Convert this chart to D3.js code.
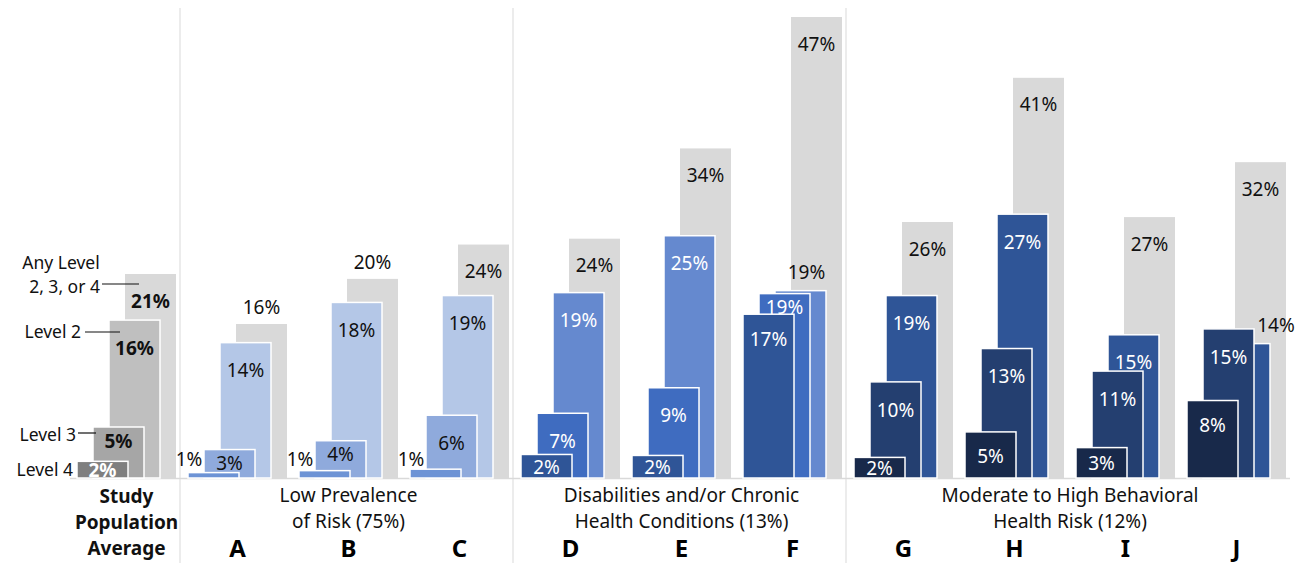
<!DOCTYPE html>
<html lang="en">
<head>
  <meta charset="UTF-8" />
  <title>Risk levels by segment</title>
  <style>
    body { margin: 0; background: #fff; }
    svg { display: block; font-family: "Noto Sans", "Open Sans", sans-serif; }
  </style>
  <script src="https://d3js.org/d3.v7.min.js"></script>
</head>
<body>
<svg id="chart" width="1303" height="563"></svg>

<script>
  // categories (first one is the study average)
  const categories = ['Study', 'A', 'B', 'C', 'D', 'E', 'F', 'G', 'H', 'I', 'J'];
  const groupOf   = ['study', 'low', 'low', 'low', 'dis', 'dis', 'dis', 'beh', 'beh', 'beh', 'beh'];

  // values in %
  const anyLevel = [20.8, 15.7, 20.3, 23.8, 24.4, 33.6, 47.0, 26.1, 40.8, 26.6, 32.2];
  const level2   = [16.1, 13.8, 17.9, 18.6, 18.9, 24.7, 19.1, 18.6, 26.9, 14.6, 13.7];
  const level3   = [5.2,  2.9,  3.8,  6.4,  6.6,  9.2,  18.8, 9.8,  13.2, 10.9, 15.2];
  const level4   = [1.7,  0.55, 0.75, 0.9,  2.4,  2.3,  16.7, 2.1,  4.7,  3.1,  7.9];

  const groups = [
    { key: 'low', lines: ['Low Prevalence', 'of Risk (75%)'] },
    { key: 'dis', lines: ['Disabilities and/or Chronic', 'Health Conditions (13%)'] },
    { key: 'beh', lines: ['Moderate to High Behavioral', 'Health Risk (12%)'] }
  ];

  const palette = {
    study: ['#d9d9d9', '#bfbfbf', '#a6a6a6', '#7f7f7f'],
    low:   ['#d9d9d9', '#b4c7e7', '#8faadc', '#6d93d5'],
    dis:   ['#d9d9d9', '#6589cf', '#3f6cc0', '#2f5597'],
    beh:   ['#d9d9d9', '#2f5597', '#243f70', '#18294a']
  };
  const lightText = { study: [false, false, false, true], low: [false, false, false, false],
                      dis: [false, true, true, true], beh: [false, true, true, true] };

  const svg = d3.select('#chart');
  const base = 478;

  const x = d3.scaleBand().domain(categories).range([71, 71 + 111 * 11]);
  const y = d3.scaleLinear().domain([0, 47]).range([base, 17]);

  const barW = 51, shift = 16;
  const center = c => x(c) + x.bandwidth() / 2;
  const barLeft = (c, k) => center(c) - 1.5 - shift * k;

  // separators
  [1, 4, 7].forEach(i => {
    const sx = x(categories[i]) - 2;
    svg.append('line')
      .attr('x1', sx).attr('x2', sx).attr('y1', 8).attr('y2', 563)
      .attr('stroke', '#d9d9d9').attr('stroke-width', 1);
  });

  // baseline
  svg.append('line')
    .attr('x1', 70).attr('x2', 1290).attr('y1', base + 0.5).attr('y2', base + 0.5)
    .attr('stroke', '#d9d9d9').attr('stroke-width', 1.5);

  const series = [anyLevel, level2, level3, level4];

  const bars = svg.append('g');
  const labels = svg.append('g').attr('font-size', 19);

  categories.forEach((c, i) => {
    const g = groupOf[i];
    const bold = g === 'study';

    series.forEach((vals, k) => {
      const v = vals[i];
      bars.append('rect')
        .attr('x', barLeft(c, k))
        .attr('y', y(v))
        .attr('width', barW)
        .attr('height', base - y(v))
        .attr('fill', palette[g][k])
        .attr('stroke', k === 0 ? 'none' : '#fff')
        .attr('stroke-width', 1.5);
    });

    series.forEach((vals, k) => {
      const v = vals[i];
      const top = y(v), h = base - top;
      let lx = barLeft(c, k) + barW / 2;
      let ly;
      let fill = lightText[g][k] ? '#fff' : '#111';

      if (k === 0) {
        const gap = y(level2[i]) - top;
        ly = gap < 30 ? top - 17 : top + 27;
      } else if (k === 1 && level3[i] >= level2[i] - 0.5) {
        // level 3 covers the top of level 2: put the label above
        ly = top - 18;
        fill = '#111';
        if (ly + 10 > y(level3[i])) lx = barLeft(c, 2) + barW + 22;
        else lx += 6;
      } else if (k === 3 && v < 1) {
        lx = barLeft(c, k) + 1;
        ly = base - 19;
        fill = '#111';
      } else if (k === 2 && y(level4[i]) - top < 40) {
        // little room above the level 4 bar
        ly = top + Math.min(14, h / 2 + 1);
      } else {
        ly = top + Math.min(k === 3 ? 25 : 28, h / 2 + 1);
      }

      labels.append('text')
        .attr('x', lx).attr('y', ly).attr('dy', '0.35em')
        .attr('text-anchor', 'middle')
        .attr('fill', fill)
        .attr('font-weight', bold ? 'bold' : 'normal')
        .text(Math.round(v) + '%');
    });
  });

  // legend labels at the left
  const legend = svg.append('g').attr('font-size', 17.5).attr('fill', '#111');
  const first = categories[0];
  legend.append('text').attr('x', 61).attr('y', 263).attr('dy', '0.35em')
    .attr('text-anchor', 'middle').text('Any Level');
  legend.append('text').attr('x', 100).attr('y', 287).attr('dy', '0.35em')
    .attr('text-anchor', 'end').text('2, 3, or 4');
  legend.append('text').attr('x', 81).attr('y', 332).attr('dy', '0.35em')
    .attr('text-anchor', 'end').text('Level 2');
  legend.append('text').attr('x', 76).attr('y', 435).attr('dy', '0.35em')
    .attr('text-anchor', 'end').text('Level 3');
  legend.append('text').attr('x', 73).attr('y', 470).attr('dy', '0.35em')
    .attr('text-anchor', 'end').text('Level 4');

  const leaders = [
    [102, barLeft(first, 0) + 14, 284],
    [85, barLeft(first, 1) + 11, 332],
    [78, barLeft(first, 2) + 3, 433]
  ];
  leaders.forEach(([x1, x2, ly]) => {
    svg.append('line').attr('x1', x1).attr('x2', x2).attr('y1', ly).attr('y2', ly)
      .attr('stroke', '#111').attr('stroke-width', 1.2);
  });

  // study label
  const studyX = barLeft(first, 3) + (barLeft(first, 0) + barW - barLeft(first, 3)) / 2;
  ['Study', 'Population', 'Average'].forEach((t, j) => {
    svg.append('text')
      .attr('x', studyX).attr('y', 496 + j * 26).attr('dy', '0.35em')
      .attr('text-anchor', 'middle').attr('font-size', 19).attr('font-weight', 'bold')
      .attr('fill', '#111').text(t);
  });

  // category letters
  categories.slice(1).forEach(c => {
    const cx = barLeft(c, 3) + (barLeft(c, 0) + barW - barLeft(c, 3)) / 2;
    svg.append('text')
      .attr('x', cx).attr('y', 549).attr('dy', '0.35em')
      .attr('text-anchor', 'middle').attr('font-size', 24).attr('font-weight', 'bold')
      .attr('fill', '#000').text(c);
  });

  // group titles
  groups.forEach(gr => {
    const members = categories.filter((c, i) => groupOf[i] === gr.key);
    const x1 = barLeft(members[0], 3);
    const x2 = barLeft(members[members.length - 1], 0) + barW;
    gr.lines.forEach((t, j) => {
      svg.append('text')
        .attr('x', (x1 + x2) / 2).attr('y', 495 + j * 26).attr('dy', '0.35em')
        .attr('text-anchor', 'middle').attr('font-size', 19)
        .attr('fill', '#111').text(t);
    });
  });
</script>
</body>
</html>
